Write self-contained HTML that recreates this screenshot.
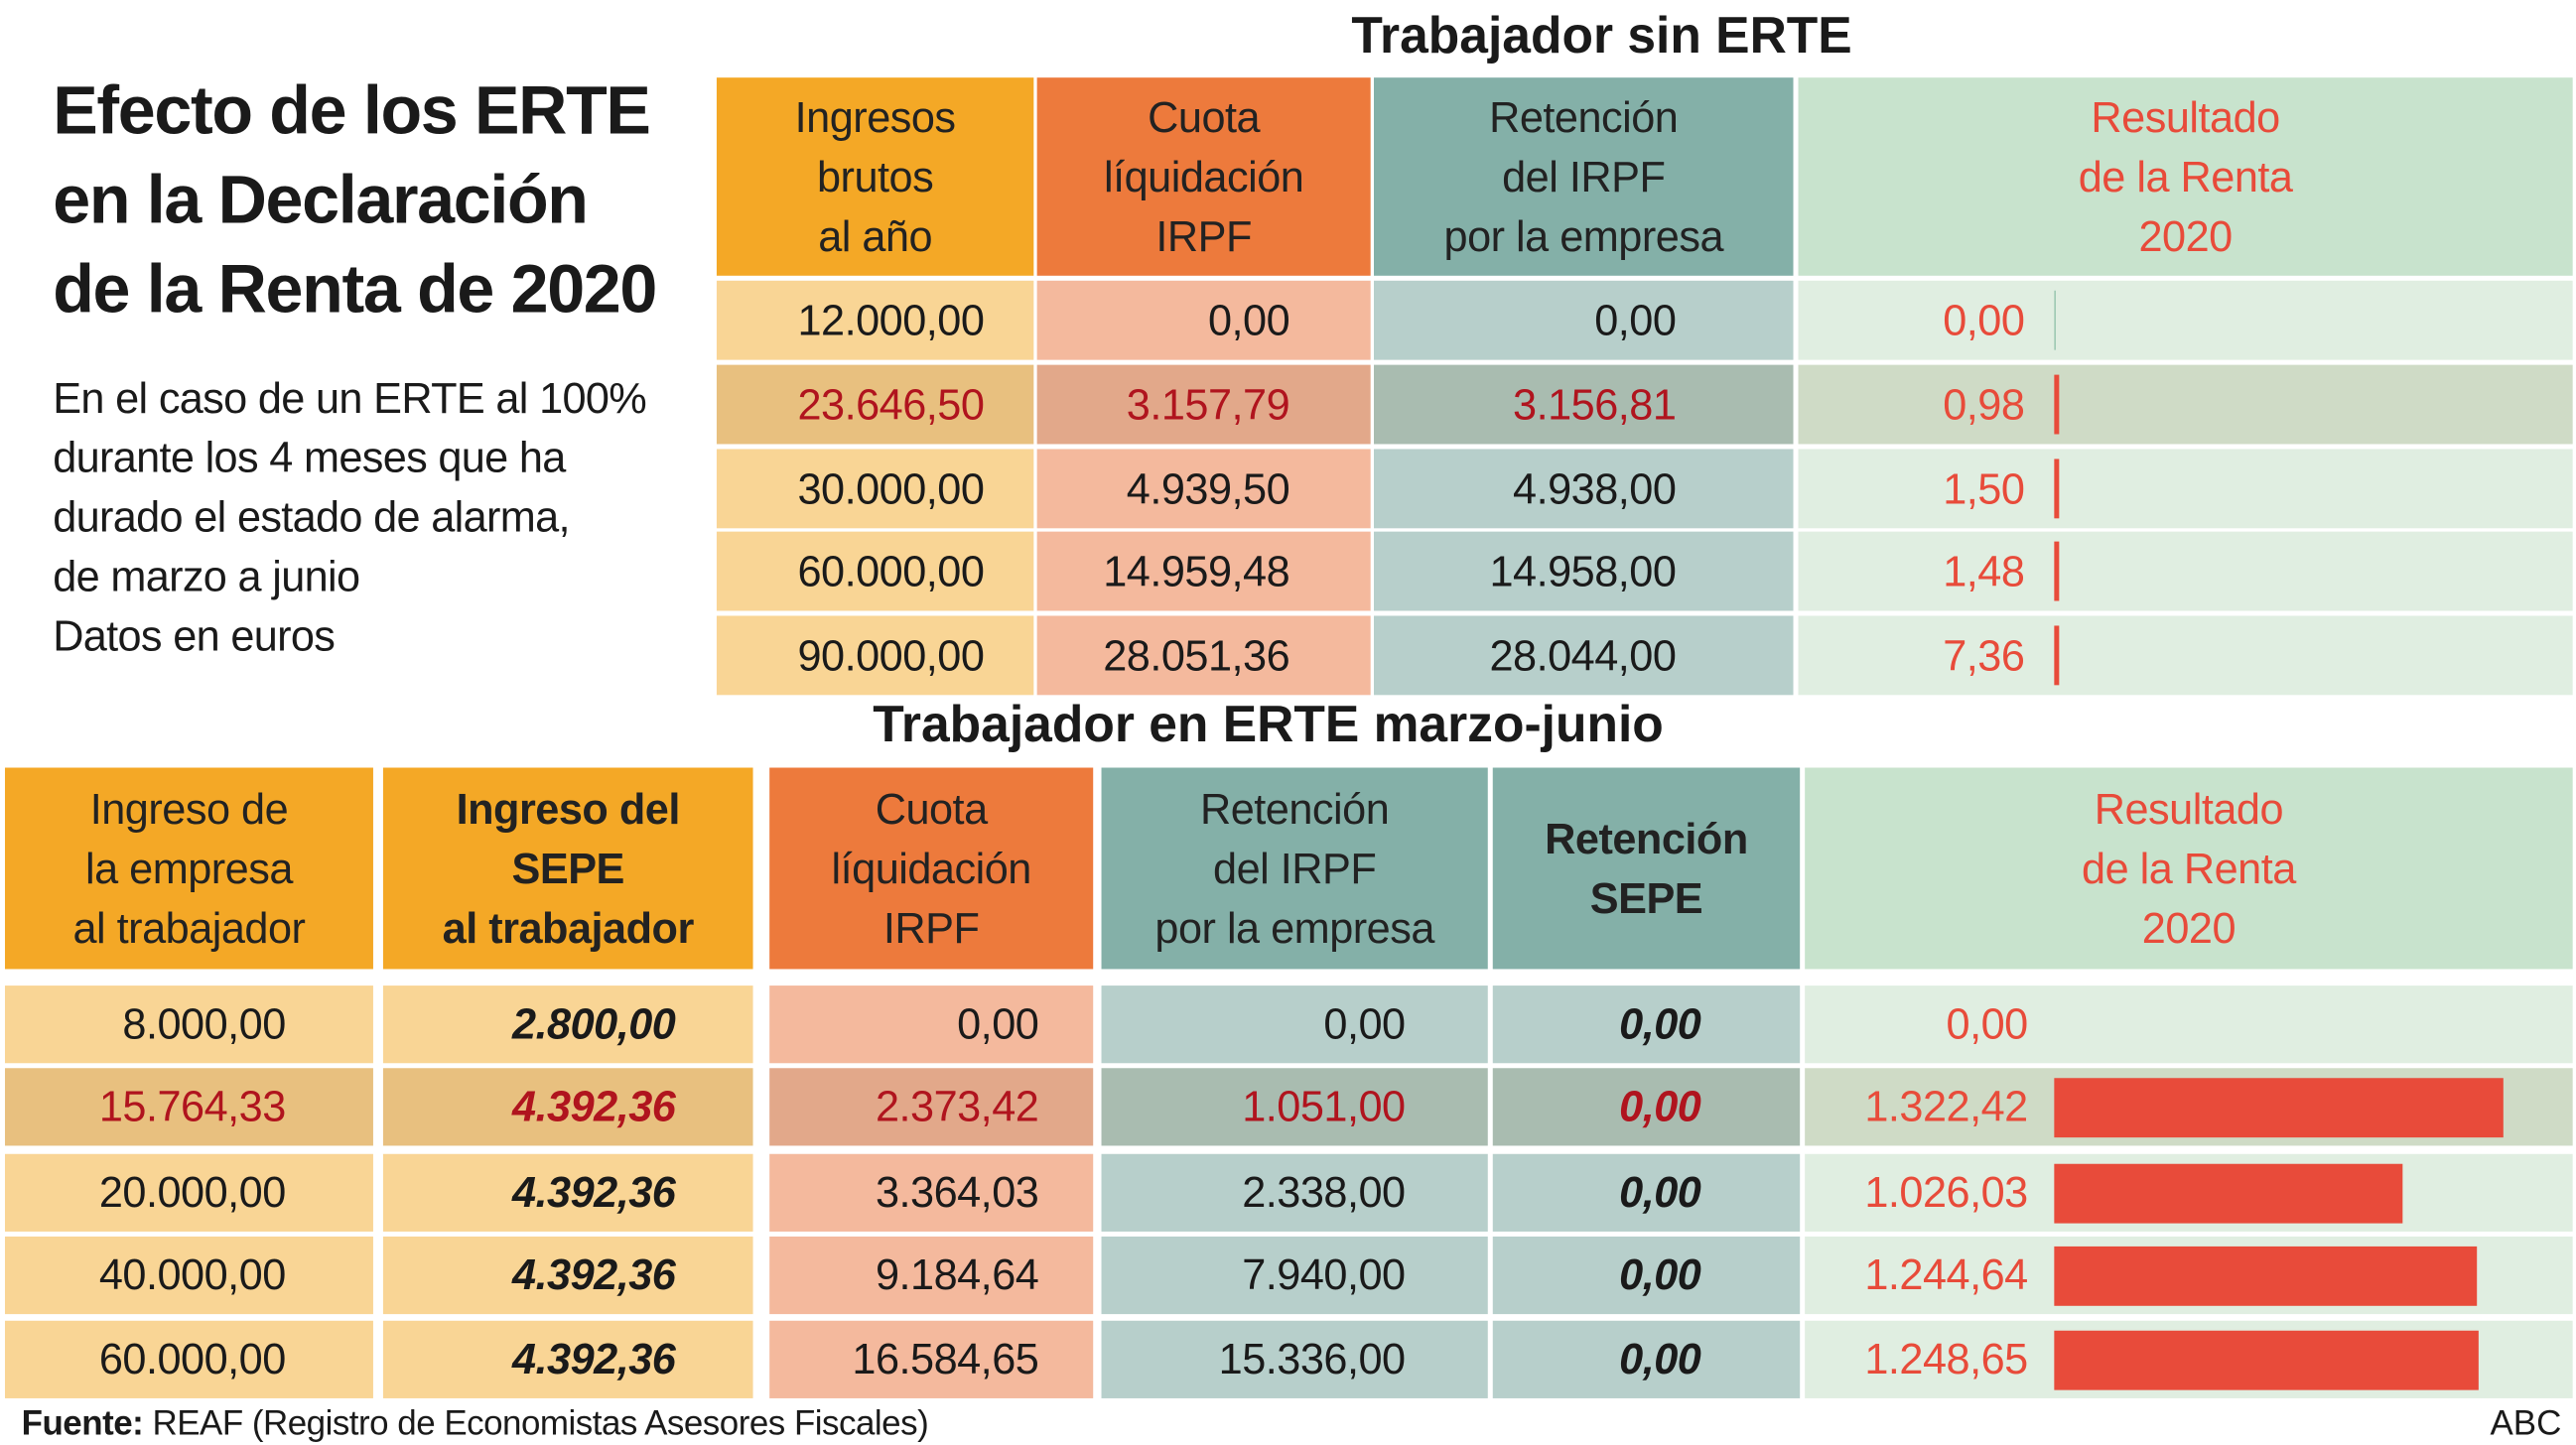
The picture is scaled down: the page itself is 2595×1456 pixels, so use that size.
<!DOCTYPE html>
<html><head><meta charset="utf-8">
<style>
html,body{margin:0;padding:0;background:#fff;}
body{width:2595px;height:1455px;overflow:hidden;}
#wrap{position:absolute;left:0;top:0;width:1560px;height:875px;transform:scale(1.66346);transform-origin:0 0;font-family:"Liberation Sans",sans-serif;color:#1a1a1a;}
.abs{position:absolute;}
.hd{position:absolute;display:flex;align-items:center;justify-content:center;text-align:center;font-size:26px;line-height:36px;letter-spacing:-0.3px;}
.cell{position:absolute;font-size:26px;text-align:right;box-sizing:border-box;display:flex;align-items:center;justify-content:flex-end;letter-spacing:-0.3px;}
</style></head><body>
<div id="wrap">
<div class="abs" style="left:32px;top:40px;font-size:41px;font-weight:bold;line-height:54px;letter-spacing:-0.8px;">Efecto de los ERTE<br>en la Declaración<br>de la Renta de 2020</div>
<div class="abs" style="left:32px;top:223px;font-size:26px;line-height:36px;letter-spacing:-0.4px;">En el caso de un ERTE al 100%<br>durante los 4 meses que ha<br>durado el estado de alarma,<br>de marzo a junio<br>Datos en euros</div>
<div class="abs" style="left:620px;width:700px;top:4px;text-align:center;font-size:31px;font-weight:bold;">Trabajador sin ERTE</div>
<div class="abs" style="left:418px;width:700px;top:421px;text-align:center;font-size:31px;font-weight:bold;">Trabajador en ERTE marzo-junio</div>
<div class="abs" style="left:13px;top:851px;font-size:21px;letter-spacing:-0.3px;"><b>Fuente:</b> REAF (Registro de Economistas Asesores Fiscales)</div>
<div class="abs" style="left:1508px;top:851px;font-size:21px;">ABC</div>
<div id="tables"></div>
</div>
<script>
// Top table data
const topIngresos = ["12.000,00","23.646,50","30.000,00","60.000,00","90.000,00"];
const topCuota = ["0,00","3.157,79","4.939,50","14.959,48","28.051,36"];
const topRetencion = ["0,00","3.156,81","4.938,00","14.958,00","28.044,00"];
const topResultadoLabels = ["0,00","0,98","1,50","1,48","7,36"];
const topResultado = [0,0.98,1.50,1.48,7.36];
// Bottom table data
const botEmpresa = ["8.000,00","15.764,33","20.000,00","40.000,00","60.000,00"];
const botSepe = ["2.800,00","4.392,36","4.392,36","4.392,36","4.392,36"];
const botCuota = ["0,00","2.373,42","3.364,03","9.184,64","16.584,65"];
const botRetEmp = ["0,00","1.051,00","2.338,00","7.940,00","15.336,00"];
const botRetSepe = ["0,00","0,00","0,00","0,00","0,00"];
const botResultadoLabels = ["0,00","1.322,42","1.026,03","1.244,64","1.248,65"];
const botResultado = [0,1322.42,1026.03,1244.64,1248.65];

const root = document.getElementById('tables');
const barScale = v => v * 0.2057;
function mk(cls, name, x, y, w, h, bg){
  const d=document.createElement('div');
  d.className=cls;
  
  
  d.style.left=x+'px';d.style.top=y+'px';d.style.width=w+'px';d.style.height=h+'px';
  if(bg)d.style.background=bg;
  root.appendChild(d);return d;
}
const cTop=[[434,192],[628,202],[832,254],[1089,469]];
const topHeads=[["Ingresos<br>brutos<br>al año","#F4A826","#222"],["Cuota<br>líquidación<br>IRPF","#ED7A3C","#222"],["Retención<br>del IRPF<br>por la empresa","#84B0A8","#222"],["Resultado<br>de la Renta<br>2020","#C8E3CD","#E84B3A"]];
topHeads.forEach((h,i)=>{const d=mk('hd','top-header-'+i,cTop[i][0],47,cTop[i][1],120,h[1]);d.innerHTML=h[0];d.style.color=h[2];});
const rowBg=["#F9D595","#F4B99D","#B7CFCB","#E0EEE1"];
const hiBg=["#E8C07F","#E2A88A","#A9BCB0","#CFDBC6"];
const topRowY=[170,221,272,322,373];
const topPad=[30,49,71,0];
const topCols=[topIngresos,topCuota,topRetencion];
topRowY.forEach((y,r)=>{
  const hi=r===1;
  for(let c=0;c<4;c++){
    const d=mk('cell','top-cell-r'+r+'-c'+c,cTop[c][0],y,cTop[c][1],48,(hi?hiBg:rowBg)[c]);
    if(c<3){d.textContent=topCols[c][r];d.style.paddingRight=topPad[c]+'px';d.style.color=hi?'#B0141E':'#1a1a1a';}
    else{
      const t=mk('cell','top-result-value',1089,y,137,48);t.textContent=topResultadoLabels[r];t.style.color='#E84B3A';
      const b=mk('abs','top-result-bar',1244,y+6,Math.max(barScale(topResultado[r]),topResultado[r]>0?3:1),36,topResultado[r]>0?'#E84B3A':'#9fc9b4');
    }
  }
});
const cBot=[[3,223],[232,224],[466,196],[667,234],[904,186],[1093,465]];
const botHeads=[["Ingreso de<br>la empresa<br>al trabajador","#F4A826","#222",false],["Ingreso del<br>SEPE<br>al trabajador","#F4A826","#222",true],["Cuota<br>líquidación<br>IRPF","#ED7A3C","#222",false],["Retención<br>del IRPF<br>por la empresa","#84B0A8","#222",false],["Retención<br>SEPE","#84B0A8","#222",true],["Resultado<br>de la Renta<br>2020","#C8E3CD","#E84B3A",false]];
botHeads.forEach((h,i)=>{const d=mk('hd','bottom-header-'+i,cBot[i][0],465,cBot[i][1],122,h[1]);d.innerHTML=h[0];d.style.color=h[2];if(h[3])d.style.fontWeight='bold';});
const botRowY=[597,647,699,749,800];
const botPad=[53,47,33,50,60];
const botCols=[botEmpresa,botSepe,botCuota,botRetEmp,botRetSepe];
const bBg=["#F9D595","#F9D595","#F4B99D","#B7CFCB","#B7CFCB","#E0EEE1"];
const bHi=["#E8C07F","#E8C07F","#E2A88A","#A9BCB0","#A9BCB0","#CFDBC6"];
botRowY.forEach((y,r)=>{
  const hi=r===1;
  for(let c=0;c<6;c++){
    const d=mk('cell','bottom-cell-r'+r+'-c'+c,cBot[c][0],y,cBot[c][1],47,(hi?bHi:bBg)[c]);
    if(c<5){d.textContent=botCols[c][r];d.style.paddingRight=botPad[c]+'px';d.style.color=hi?'#B0141E':'#1a1a1a';
      if(c===1||c===4){d.style.fontWeight='bold';d.style.fontStyle='italic';}}
    else{
      const t=mk('cell','bottom-result-value',1093,y,135,47);t.textContent=botResultadoLabels[r];t.style.color='#E84B3A';
      if(botResultado[r]>0){mk('abs','bottom-result-bar',1244,y+6,barScale(botResultado[r]),36,'#E84B3A');}
    }
  }
});
</script>
</body></html>
